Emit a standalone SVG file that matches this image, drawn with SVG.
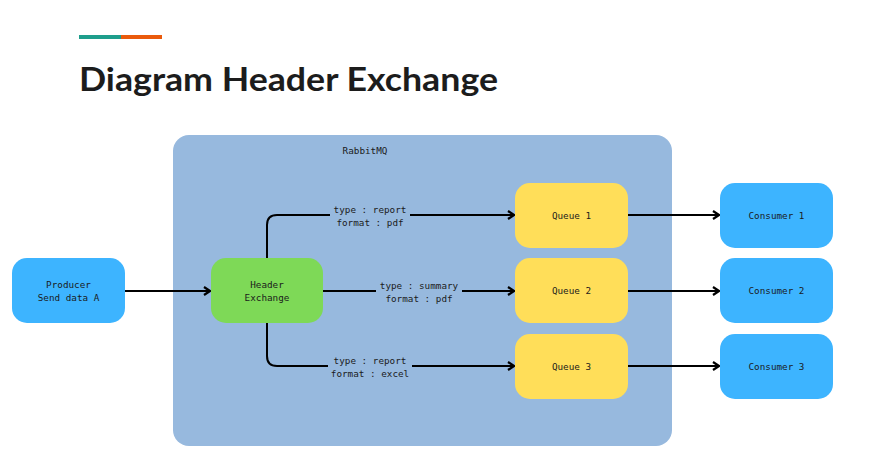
<svg xmlns="http://www.w3.org/2000/svg" width="885" height="468" viewBox="0 0 885 468">
<defs>
<style>
.mono{font-family:"DejaVu Sans Mono","Liberation Mono",monospace;font-size:9.3px;fill:#1b1b1b;text-anchor:middle}
.edge{fill:none;stroke:#000;stroke-width:2}
.lblbg{fill:#97b9de}
.blue{fill:#3db4ff}
.queue{fill:#ffde59}
</style>
<marker id="arr" viewBox="0 0 10 10" refX="9" refY="5" markerWidth="10" markerHeight="10" markerUnits="userSpaceOnUse" orient="auto">
<path d="M3,1 L9,5 L3,9" fill="none" stroke="#000" stroke-width="2.2"/>
</marker>
</defs>
<rect width="885" height="468" fill="#fff"/>
<g id="title">
<rect x="79" y="35" width="42" height="4" fill="#1e9e8c"/>
<rect x="121" y="35" width="41" height="4" fill="#ea5a0c"/>
<text x="79" y="91" font-family="Lato,'Open Sans',sans-serif" font-weight="700" font-size="32" fill="#1c1c1c" textLength="419" lengthAdjust="spacingAndGlyphs">Diagram Header Exchange</text>
</g>
<g id="rabbitmq">
<rect x="173" y="135" width="499" height="311" rx="16" fill="#97b9de"/>
<text class="mono" x="365" y="154">RabbitMQ</text>
</g>
<g id="connectors">
<path class="edge" d="M125,291 H210" marker-end="url(#arr)"/>
<path class="edge" d="M267,258 V225 Q267,215 277,215 H514" marker-end="url(#arr)"/>
<path class="edge" d="M323,291 H514" marker-end="url(#arr)"/>
<path class="edge" d="M267,323 V356 Q267,366 277,366 H514" marker-end="url(#arr)"/>
<path class="edge" d="M628,215 H719" marker-end="url(#arr)"/>
<path class="edge" d="M628,291 H719" marker-end="url(#arr)"/>
<path class="edge" d="M628,366 H719" marker-end="url(#arr)"/>
<rect class="lblbg" x="330" y="203" width="80" height="24"/>
<text class="mono" x="370" y="213">type : report</text>
<text class="mono" x="370" y="226">format : pdf</text>
<rect class="lblbg" x="376" y="279" width="86" height="24"/>
<text class="mono" x="419" y="289">type : summary</text>
<text class="mono" x="419" y="302">format : pdf</text>
<rect class="lblbg" x="328" y="354" width="84" height="24"/>
<text class="mono" x="370" y="364">type : report</text>
<text class="mono" x="370" y="377">format : excel</text>
</g>
<g id="producer">
<rect class="blue" x="12" y="258" width="113" height="65" rx="15"/>
<text class="mono" x="68.5" y="288">Producer</text>
<text class="mono" x="68.5" y="301">Send data A</text>
</g>
<g id="exchange">
<rect x="211" y="258" width="112" height="65" rx="15" fill="#7ed957"/>
<text class="mono" x="267" y="288">Header</text>
<text class="mono" x="267" y="301">Exchange</text>
</g>
<g id="queue1">
<rect class="queue" x="515" y="183" width="113" height="65" rx="15"/>
<text class="mono" x="571.5" y="219">Queue 1</text>
</g>
<g id="queue2">
<rect class="queue" x="515" y="258" width="113" height="65" rx="15"/>
<text class="mono" x="571.5" y="294">Queue 2</text>
</g>
<g id="queue3">
<rect class="queue" x="515" y="334" width="113" height="65" rx="15"/>
<text class="mono" x="571.5" y="370">Queue 3</text>
</g>
<g id="consumer1">
<rect class="blue" x="720" y="183" width="113" height="65" rx="15"/>
<text class="mono" x="776.5" y="219">Consumer 1</text>
</g>
<g id="consumer2">
<rect class="blue" x="720" y="258" width="113" height="65" rx="15"/>
<text class="mono" x="776.5" y="294">Consumer 2</text>
</g>
<g id="consumer3">
<rect class="blue" x="720" y="334" width="113" height="65" rx="15"/>
<text class="mono" x="776.5" y="370">Consumer 3</text>
</g>
</svg>
